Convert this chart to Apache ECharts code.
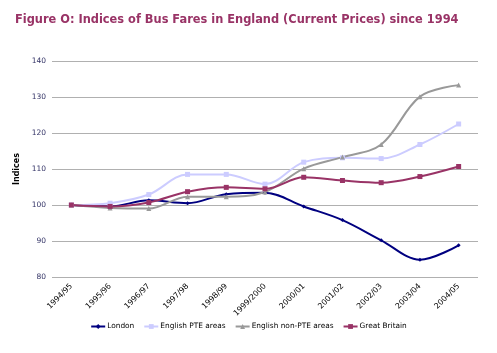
<!DOCTYPE html>
<html><head><meta charset="utf-8">
<script src="https://cdn.jsdelivr.net/npm/echarts@6/dist/echarts.min.js"></script>
<style>html,body{margin:0;padding:0;background:#fff}#c{width:497px;height:353px}</style>
</head><body><div id="c"></div>
<script>
const categories = ['1994/95','1995/96','1996/97','1997/98','1998/99','1999/2000','2000/01','2001/02','2002/03','2003/04','2004/05'];
const london = [100, 99.6, 101.3, 100.5, 103.0, 103.4, 99.6, 95.8, 90.2, 84.8, 88.8];
const ptea = [100, 100.5, 102.9, 108.5, 108.5, 105.8, 111.9, 113.1, 112.9, 116.8, 122.5];
const nonPte = [100, 99.2, 99.0, 102.3, 102.3, 103.6, 110.1, 113.3, 116.8, 130.1, 133.3];
const gb = [100, 99.6, 100.7, 103.7, 104.9, 104.5, 107.7, 106.8, 106.2, 107.9, 110.7];
const yTicks = {min: 80, max: 140, interval: 10};

const chart = echarts.init(document.getElementById('c'));
const font = 'Verdana, "DejaVu Sans", sans-serif';
function s(name, data, color, symbol, size){
  return {name, type:'line', data, smooth:0.35, symbol, symbolSize:size,
    lineStyle:{color, width:2}, itemStyle:{color}, z: 2};
}
chart.setOption({
  animation:false,
  title:{text:'Figure O: Indices of Bus Fares in England (Current Prices) since 1994', left:10, top:10,
    textStyle:{fontFamily:font, fontSize:11.4, fontWeight:'bold', color:'#993366'}},
  grid:{left:52, right:19, top:61, bottom:76, containLabel:false},
  legend:{bottom:18, left:'center', itemWidth:14, itemHeight:6, itemGap:9,
    textStyle:{fontFamily:font, fontSize:7.4, color:'#000', padding:[0,0,0,-3]},
    data:['London','English PTE areas','English non-PTE areas','Great Britain']},
  xAxis:{type:'category', data:categories, boundaryGap:true,
    axisLine:{show:false}, axisTick:{show:false},
    axisLabel:{rotate:45, fontFamily:font, fontSize:7.8, color:'#000', interval:0, margin:8}},
  yAxis:{type:'value', min:yTicks.min, max:yTicks.max, interval:yTicks.interval,
    name:'Indices', nameLocation:'middle', nameGap:23, nameRotate:90,
    nameTextStyle:{fontFamily:font, fontSize:8, fontWeight:'bold', color:'#000'},
    axisLine:{show:false}, axisTick:{show:false},
    axisLabel:{fontFamily:font, fontSize:7.5, color:'#333366', margin:6},
    splitLine:{lineStyle:{color:'#b0b0b0', width:1}}},
  series:[
    s('London', london, '#000080', 'diamond', 4),
    s('English PTE areas', ptea, '#CCCCFF', 'rect', 5),
    s('English non-PTE areas', nonPte, '#999999', 'triangle', 5),
    s('Great Britain', gb, '#993366', 'rect', 5)
  ]
});
</script></body></html>
